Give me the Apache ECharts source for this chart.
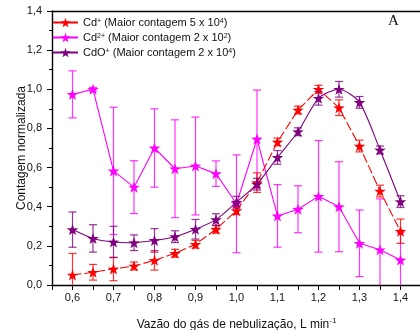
<!DOCTYPE html>
<html>
<head>
<meta charset="utf-8">
<script src="https://cdn.jsdelivr.net/npm/echarts@6/dist/echarts.min.js"></script>
<style>html,body{margin:0;padding:0;background:#fff}#c{width:420px;height:330px}</style>
</head>
<body>
<div id="c"></div>
<script>
const flowRates = [0.6,0.65,0.7,0.75,0.8,0.85,0.9,0.95,1.0,1.05,1.1,1.15,1.2,1.25,1.3,1.35,1.4];
const cdPlus     = [0.051,0.065,0.082,0.097,0.126,0.162,0.208,0.285,0.38,0.523,0.731,0.894,1.0,0.906,0.71,0.48,0.275];
const cdPlusErr  = [0.11,0.04,0.06,0.02,0.05,0.02,0.02,0.02,0.02,0.05,0.02,0.02,0.02,0.04,0.03,0.03,0.062];
const cd2Plus    = [0.974,1.0,0.583,0.50,0.70,0.594,0.608,0.569,0.415,0.746,0.353,0.387,0.453,0.40,0.213,0.18,0.128];
const cd2PlusErr = [0.12,0.01,0.325,0.135,0.2,0.25,0.25,0.065,0.25,0.25,0.16,0.12,0.285,0.23,0.17,0.26,0.14];
const cdOPlus    = [0.283,0.238,0.22,0.216,0.228,0.247,0.285,0.334,0.423,0.515,0.652,0.783,0.954,1.0,0.933,0.69,0.426];
const cdOPlusErr = [0.09,0.07,0.08,0.04,0.06,0.03,0.05,0.03,0.03,0.03,0.035,0.02,0.035,0.04,0.03,0.02,0.03];
const seriesNames = ['Cd+','Cd2+','CdO+'];
const legendLabels = {
  'Cd+': 'Cd{sup|+} (Maior contagem 5 x 10{sup|4})',
  'Cd2+': 'Cd{sup|2+} (Maior contagem 2 x 10{sup|2})',
  'CdO+': 'CdO{sup|+} (Maior contagem 2 x 10{sup|4})'
};
const yTicks = [0,0.2,0.4,0.6,0.8,1.0,1.2,1.4];

const colors = {'Cd+':'#ff0000','Cd2+':'#ff00ff','CdO+':'#800080'};
const star = 'path://M0,-10L2.35,-3.24L9.51,-3.09L3.8,1.24L5.88,8.09L0,4L-5.88,8.09L-3.8,1.24L-9.51,-3.09L-2.35,-3.24Z';
const FONT = '"Liberation Sans", Arial, sans-serif';
const fmt = v => v.toFixed(1).replace('.', ',');

function pts(vals){ return flowRates.map((x,i)=>[x, vals[i]]); }
function errPts(vals, errs){ return flowRates.map((x,i)=>[x, vals[i], errs[i]]); }

function errSeries(name, vals, errs, z){
  return {
    type:'custom', name: name+' err', z: z, clip: true,
    data: errPts(vals, errs), encode:{x:0,y:1},
    renderItem: function(params, api){
      const x = api.value(0), y = api.value(1), e = api.value(2);
      const t = api.coord([x, y+e]), b = api.coord([x, y-e]);
      const hw = 4;
      const st = {stroke: colors[name], lineWidth: 1.2, opacity: 0.8};
      return {type:'group', children:[
        {type:'line', shape:{x1:t[0],y1:t[1],x2:b[0],y2:b[1]}, style:st},
        {type:'line', shape:{x1:t[0]-hw,y1:t[1],x2:t[0]+hw,y2:t[1]}, style:st},
        {type:'line', shape:{x1:b[0]-hw,y1:b[1],x2:b[0]+hw,y2:b[1]}, style:st}
      ]};
    }
  };
}
function lineSeries(name, vals, z, dash, smooth){
  return {
    type:'line', name: name, z: z, data: pts(vals),
    symbol: star, symbolSize:[11.5,11], smooth: smooth || false,
    itemStyle:{color: colors[name]},
    lineStyle:{color: colors[name], width: 1.1, type: dash || 'solid'},
    emphasis:{disabled:true}
  };
}

const chart = echarts.init(document.getElementById('c'), null, {renderer:'canvas'});
chart.setOption({
  animation:false,
  backgroundColor:'#ffffff',
  grid:{left:52, right:-1, top:11, bottom:45, containLabel:false, outerBoundsMode:'none'},
  legend:{
    orient:'vertical', left:47, top:12, itemWidth:25, itemHeight:12, itemGap:3.5,
    data: seriesNames,
    lineStyle:{type:'solid'},
    formatter: n => legendLabels[n],
    textStyle:{fontFamily:FONT, fontSize:11, color:'#111', lineHeight:10,
      rich:{sup:{fontSize:7, fontFamily:FONT, color:'#111', verticalAlign:'top', lineHeight:10, padding:[0,0,4,0]}}}
  },
  xAxis:[{
    type:'value', min:0.55, max:1.45, interval:0.05,
    name:'Vazão do gás de nebulização, L min{sup|-1}', nameLocation:'middle', nameGap:32,
    nameTextStyle:{fontFamily:FONT, fontSize:12, color:'#111',
      rich:{sup:{fontSize:8, fontFamily:FONT, color:'#111', padding:[0,0,8,0]}}},
    axisLine:{onZero:false, lineStyle:{color:'#000', width:1.4}},
    axisTick:{length:5, lineStyle:{color:'#000', width:1}},
    splitLine:{show:false},
    axisLabel:{fontFamily:FONT, fontSize:11, color:'#111', margin:7,
      formatter: v => (Math.round(v*100) % 10 === 0 ? fmt(v) : '')}
  },{
    type:'value', position:'top', min:0.55, max:1.45,
    axisLine:{show:true, onZero:false, lineStyle:{color:'#000', width:1.4}},
    axisTick:{show:false}, axisLabel:{show:false}, splitLine:{show:false}
  }],
  yAxis:{
    type:'value', min:yTicks[0], max:yTicks[yTicks.length-1], interval:0.2,
    name:'Contagem normalizada', nameLocation:'middle', nameGap:24, nameMoveOverlap:false,
    nameTextStyle:{fontFamily:FONT, fontSize:12, color:'#111'},
    axisLine:{show:true, onZero:false, lineStyle:{color:'#000', width:1.4}},
    axisTick:{show:true, length:5, lineStyle:{color:'#000', width:1}},
    minorTick:{show:true, splitNumber:2, length:3, lineStyle:{color:'#000', width:1}},
    splitLine:{show:false},
    axisLabel:{fontFamily:FONT, fontSize:11, color:'#111', margin:10, formatter: fmt}
  },
  series:[
    errSeries('Cd2+', cd2Plus, cd2PlusErr, 1),
    lineSeries('Cd2+', cd2Plus, 2),
    errSeries('Cd+', cdPlus, cdPlusErr, 3),
    lineSeries('Cd+', cdPlus, 4, [9,3]),
    errSeries('CdO+', cdOPlus, cdOPlusErr, 5),
    lineSeries('CdO+', cdOPlus, 6, 'solid', 0.25)
  ],
  graphic:[{
    type:'text', left:388, top:14,
    style:{text:'A', font:'15px "Liberation Serif", "Times New Roman", serif', fill:'#111'}
  }]
});
</script>
</body>
</html>
